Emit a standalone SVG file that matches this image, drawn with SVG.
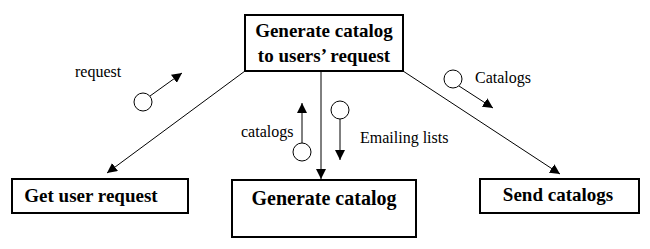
<svg xmlns="http://www.w3.org/2000/svg" width="650" height="249" viewBox="0 0 650 249">
<defs>
<marker id="ah" viewBox="0 0 10 10" refX="10" refY="5" markerWidth="10" markerHeight="10" markerUnits="userSpaceOnUse" orient="auto">
<path d="M0,0 L10,5 L0,10 z" fill="#000"/>
</marker>
<style>
.box{fill:#fff;stroke:#000;stroke-width:2}
.t{font-family:'Liberation Serif','DejaVu Serif',serif;font-weight:bold;font-size:19px;fill:#000;text-anchor:middle}
.l{font-family:'Liberation Serif','DejaVu Serif',serif;font-size:16px;fill:#000}
.c{stroke:#000;stroke-width:1;fill:none}
.fl{fill:#fff;stroke:#000;stroke-width:1}
</style>
</defs>
<rect width="650" height="249" fill="#fff"/>
<g id="connectors">
<line class="c" x1="245" y1="71" x2="107" y2="173" marker-end="url(#ah)"/>
<line class="c" x1="321" y1="71" x2="321" y2="179" marker-end="url(#ah)"/>
<line class="c" x1="403" y1="71" x2="560" y2="174" marker-end="url(#ah)"/>
</g>
<g id="top">
<rect class="box" x="245" y="15" width="158" height="56"/>
<text class="t" x="324" y="37">Generate catalog</text>
<text class="t" x="324" y="62">to users’ request</text>
</g>
<g id="get">
<rect class="box" x="12" y="179" width="176" height="34"/>
<text class="t" x="91" y="202">Get user request</text>
</g>
<g id="gen">
<rect class="box" x="232" y="180" width="184" height="57"/>
<text class="t" x="324" y="205" style="font-size:20px">Generate catalog</text>
</g>
<g id="send">
<rect class="box" x="480" y="179" width="159" height="34"/>
<text class="t" x="558" y="201">Send catalogs</text>
</g>
<g id="flow-request">
<circle class="fl" cx="143" cy="102" r="9"/>
<line class="c" x1="150" y1="96" x2="182" y2="73" marker-end="url(#ah)"/>
<text class="l" x="75" y="77">request</text>
</g>
<g id="flow-catalogs">
<circle class="fl" cx="302" cy="152" r="9"/>
<line class="c" x1="302" y1="143" x2="302" y2="103" marker-end="url(#ah)"/>
<text class="l" x="241" y="137">catalogs</text>
</g>
<g id="flow-emailing">
<circle class="fl" cx="340" cy="110" r="9"/>
<line class="c" x1="340" y1="119" x2="340" y2="160" marker-end="url(#ah)"/>
<text class="l" x="360" y="143">Emailing lists</text>
</g>
<g id="flow-catalogs2">
<circle class="fl" cx="453" cy="79" r="9"/>
<line class="c" x1="459" y1="86" x2="493" y2="108" marker-end="url(#ah)"/>
<text class="l" x="475" y="83">Catalogs</text>
</g>
</svg>
